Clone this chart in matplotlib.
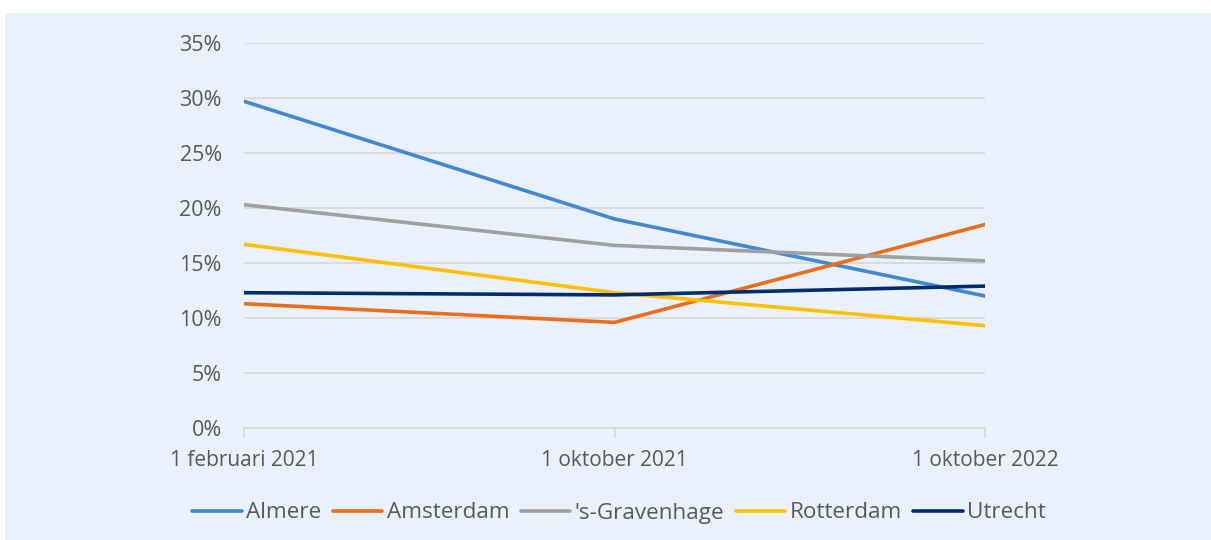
import matplotlib
matplotlib.use("Agg")
import matplotlib.pyplot as plt
from matplotlib.patches import Rectangle

plt.rcParams["font.family"] = ["Open Sans", "DejaVu Sans"]

# Data (percent)
dates = ["1 februari 2021", "1 oktober 2021", "1 oktober 2022"]
almere = [29.7, 19.0, 12.0]
amsterdam = [11.3, 9.6, 18.5]
den_haag = [20.3, 16.6, 15.2]
rotterdam = [16.7, 12.3, 9.3]
utrecht = [12.3, 12.1, 12.9]

series = [
    ("Almere", almere, "#4189D0"),
    ("Amsterdam", amsterdam, "#EC6D1C"),
    ("'s-Gravenhage", den_haag, "#A0A0A0"),
    ("Rotterdam", rotterdam, "#FFC000"),
    ("Utrecht", utrecht, "#002C6C"),
]

bg = "#EAF1FD"
text_col = "#595959"

fig = plt.figure(figsize=(12.11, 5.40), dpi=100, facecolor="white")
fig.patches.append(Rectangle((5 / 1211, 0), 1, 1 - 13 / 540,
                             transform=fig.transFigure, facecolor=bg,
                             edgecolor="none", zorder=-5))

ax = fig.add_axes([244 / 1211, 1 - 428 / 540, (985 - 244) / 1211, (428 - 43) / 540])
ax.set_facecolor("none")
ax.set_zorder(2)

x = list(range(len(dates)))
for name, vals, col in series:
    ax.plot(x, vals, color=col, linewidth=2.6, label=name,
            solid_capstyle="round", zorder=3)

ax.set_xlim(0, 2)
ax.set_ylim(0, 35)
ax.set_yticks(range(0, 36, 5))
ax.set_yticklabels([f"{v}%" for v in range(0, 36, 5)])
ax.set_xticks(x)
ax.set_xticklabels(dates)
ax.grid(axis="y", color="#D9D9D9", linewidth=1.3)
ax.set_axisbelow(True)
for s in ["top", "right", "left"]:
    ax.spines[s].set_visible(False)
ax.spines["bottom"].set_color("#D9D9D9")
ax.spines["bottom"].set_linewidth(1.3)
ax.tick_params(axis="y", length=0, pad=16, labelsize=15.5, labelcolor=text_col)
ax.tick_params(axis="x", length=7, width=1.3, color="#D9D9D9", pad=9,
               labelsize=15, labelcolor=text_col)

fig.legend(loc="center", bbox_to_anchor=(619 / 1211, 1 - 513 / 540), ncol=5,
           frameon=False, handlelength=2.2, handletextpad=0.2,
           columnspacing=0.5, fontsize=16.2, labelcolor=text_col)

fig.savefig("out.png", dpi=100, facecolor="white")
